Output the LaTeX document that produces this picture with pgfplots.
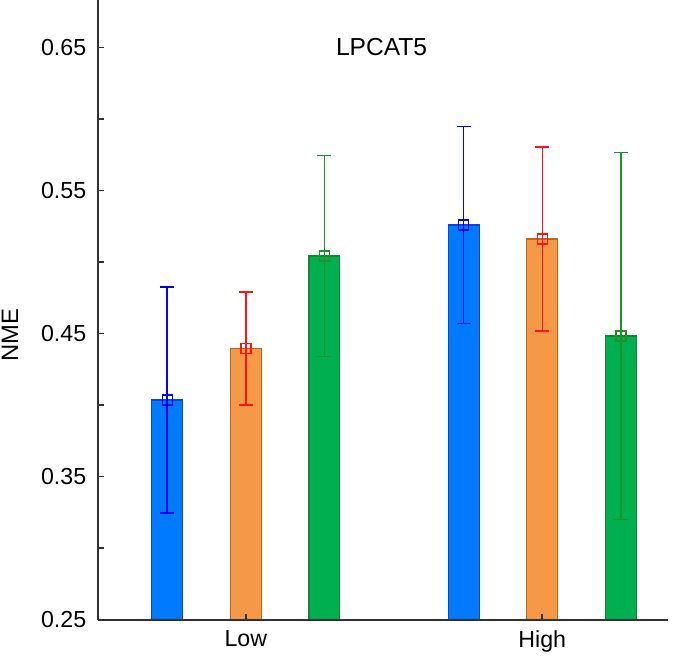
\documentclass[border=0pt]{standalone}
\usepackage{fontspec}
\setmainfont{Liberation Sans}
\usepackage{pgfplots}
\pgfplotsset{compat=1.18}

\definecolor{barblue}{RGB}{0,122,255}
\definecolor{edgeblue}{RGB}{10,70,210}
\definecolor{barorange}{RGB}{245,152,72}
\definecolor{edgeorange}{RGB}{192,100,32}
\definecolor{bargreen}{RGB}{0,176,80}
\definecolor{edgegreen}{RGB}{20,135,50}
\definecolor{errblue}{RGB}{0,0,255}
\definecolor{errred}{RGB}{255,20,20}
\definecolor{errgreen}{RGB}{30,145,40}
\definecolor{axisgray}{RGB}{50,50,50}

% NME means and symmetric error half-widths (x: Low = 0, High = 1, bars offset within the group)
\pgfplotstableread{
x       y       e
-0.265  0.4034  0.0790
 0.735  0.5258  0.0688
}\bluedata
\pgfplotstableread{
x       y       e
 0.000  0.4394  0.0395
 1.000  0.5160  0.0643
}\orangedata
\pgfplotstableread{
x       y       e
 0.265  0.5041  0.0703
 1.265  0.4482  0.1283
}\greendata

\begin{document}
\begin{tikzpicture}
\path[use as bounding box] (-49.15pt,-25.25pt) rectangle (290.35pt,309.75pt);
\begin{axis}[
  at={(0pt,0pt)}, anchor=south west,
  scale only axis,
  width=285pt, height=309.75pt,
  xmin=-0.4975, xmax=1.425,
  ymin=0.25, ymax=0.6831,
  axis on top,
  axis x line*=bottom, axis y line*=left,
  axis line style={axisgray, line width=1pt},
  xtick={0,1}, xticklabels={Low,High},
  ytick={0.25,0.35,0.45,0.55,0.65},
  minor ytick={0.30,0.40,0.50,0.60},
  yticklabel style={/pgf/number format/fixed, /pgf/number format/precision=2,
    /pgf/number format/fixed zerofill, xshift=-2.5pt},
  xticklabel style={yshift=-2pt},
  /pgf/number format/assume math mode=true,
  ticklabel style={font=\fontsize{11.6}{14}\selectfont, text=black},
  tick style={axisgray, line width=0.8pt},
  major tick length=3pt, minor tick length=3pt,
  xtick align=inside, ytick align=inside,
  ylabel={NME},
  ylabel style={at={(rel axis cs:-0.155,0.459)}, anchor=center, font=\fontsize{11.9}{14}\selectfont},
  clip=false,
]
% bars
\addplot[ybar, bar width=0.104, bar shift=0pt, fill=barblue, draw=edgeblue, line width=0.6pt]
  table[x=x, y=y] {\bluedata};
\addplot[ybar, bar width=0.104, bar shift=0pt, fill=barorange, draw=edgeorange, line width=0.6pt]
  table[x=x, y=y] {\orangedata};
\addplot[ybar, bar width=0.104, bar shift=0pt, fill=bargreen, draw=edgegreen, line width=0.6pt]
  table[x=x, y=y] {\greendata};
% error bars with open square markers at the means
\addplot[only marks, mark=square, mark size=2.5pt, errblue, line width=0.7pt,
  error bars/.cd, y dir=both, y explicit,
  error bar style={errblue, line width=0.75pt},
  error mark options={rotate=90, mark size=3.5pt, errblue, line width=0.75pt}]
  table[x=x, y=y, y error=e] {\bluedata};
\addplot[only marks, mark=square, mark size=2.5pt, errred, line width=0.7pt,
  error bars/.cd, y dir=both, y explicit,
  error bar style={errred, line width=0.75pt},
  error mark options={rotate=90, mark size=3.5pt, errred, line width=0.75pt}]
  table[x=x, y=y, y error=e] {\orangedata};
\addplot[only marks, mark=square, mark size=2.5pt, errgreen, line width=0.7pt,
  error bars/.cd, y dir=both, y explicit,
  error bar style={errgreen, line width=0.75pt},
  error mark options={rotate=90, mark size=3.5pt, errgreen, line width=0.75pt}]
  table[x=x, y=y, y error=e] {\greendata};
\node[font=\fontsize{12.3}{14}\selectfont, anchor=center] at (rel axis cs:0.497,0.924) {LPCAT5};
\end{axis}
\end{tikzpicture}
\end{document}
